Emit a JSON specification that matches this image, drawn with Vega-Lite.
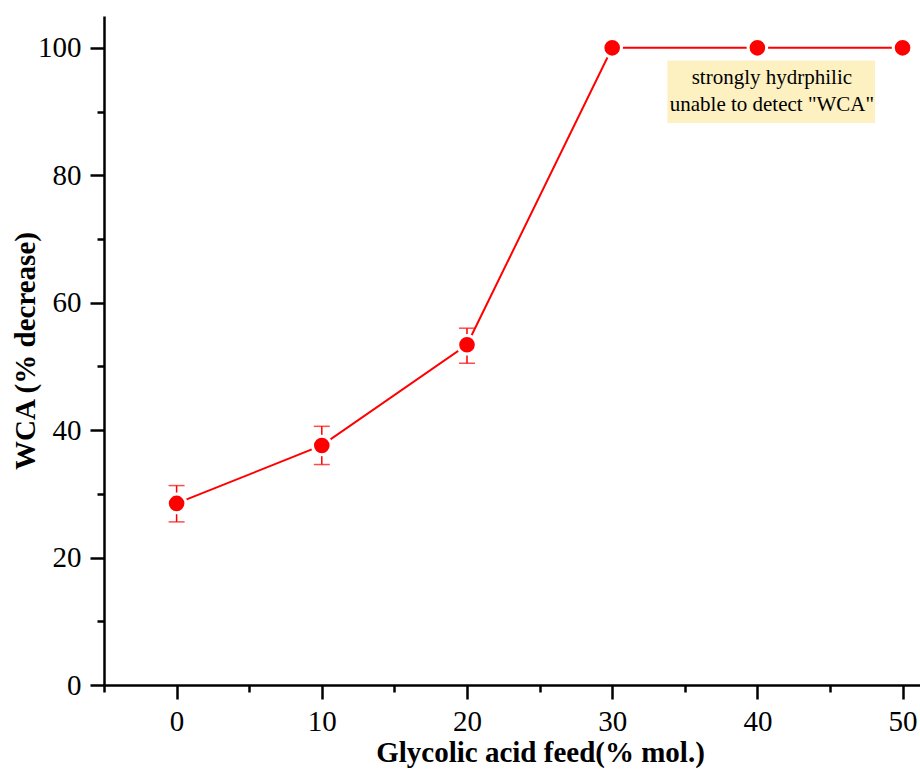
{
  "$schema": "https://vega.github.io/schema/vega-lite/v6.json",
  "width": 816,
  "height": 669,
  "padding": {"left": 104, "top": 16, "right": 0, "bottom": 86},
  "autosize": {"type": "none"},
  "background": "white",
  "config": {
    "view": {"stroke": null},
    "font": "Liberation Serif",
    "axis": {
      "domainColor": "black",
      "domainWidth": 2.5,
      "tickColor": "black",
      "tickWidth": 2.5,
      "grid": false,
      "labelFont": "Liberation Serif",
      "labelFontSize": 29,
      "labelColor": "black",
      "titleFont": "Liberation Serif",
      "titleFontWeight": "bold",
      "titleFontSize": 29,
      "titleColor": "black"
    }
  },
  "datasets": {
    "pts": [
      {"feed": 0, "wca": 28.5, "lo": 25.6, "hi": 31.3},
      {"feed": 10, "wca": 37.6, "lo": 34.6, "hi": 40.6},
      {"feed": 20, "wca": 53.4, "lo": 50.5, "hi": 56.0},
      {"feed": 30, "wca": 100},
      {"feed": 40, "wca": 100},
      {"feed": 50, "wca": 100}
    ],
    "note": [
      {"x1": 33.8, "x2": 48.1, "y1": 88.2, "y2": 98.0}
    ],
    "notetext": [
      {"x": 41.0, "y": 95.2, "t": "strongly hydrphilic"},
      {"x": 41.0, "y": 91.1, "t": "unable to detect \"WCA\""}
    ]
  },
  "layer": [
    {
      "data": {"name": "note"},
      "mark": {"type": "rect", "color": "#fdf1c2"},
      "encoding": {
        "x": {"field": "x1", "type": "quantitative",
          "scale": {"domain": [-5, 51.2], "nice": false, "zero": false},
          "axis": {
            "title": "Glycolic acid feed(% mol.)",
            "values": [-5, 0, 5, 10, 15, 20, 25, 30, 35, 40, 45, 50],
            "labelExpr": "datum.value % 10 === 0 ? datum.label : ''",
            "tickSize": {"condition": {"test": "datum.value % 10 === 0", "value": 14}, "value": 7},
            "labelPadding": 8,
            "titlePadding": 2,
            "titleX": 436
          }},
        "x2": {"field": "x2"},
        "y": {"field": "y1", "type": "quantitative",
          "scale": {"domain": [0, 105], "nice": false},
          "axis": {
            "title": "WCA (% decrease)",
            "values": [0, 10, 20, 30, 40, 50, 60, 70, 80, 90, 100],
            "labelExpr": "datum.value % 20 === 0 ? datum.label : ''",
            "tickSize": {"condition": {"test": "datum.value % 20 === 0", "value": 14}, "value": 7},
            "labelPadding": 9,
            "titlePadding": -3
          }},
        "y2": {"field": "y2"}
      }
    },
    {
      "data": {"name": "notetext"},
      "mark": {"type": "text", "font": "Liberation Serif", "fontSize": 21, "color": "black", "align": "center", "baseline": "middle"},
      "encoding": {
        "x": {"field": "x", "type": "quantitative"},
        "y": {"field": "y", "type": "quantitative"},
        "text": {"field": "t"}
      }
    },
    {
      "data": {"name": "pts"},
      "transform": [{"filter": "isValid(datum.lo)"}],
      "mark": {"type": "rule", "color": "#ff0000", "strokeWidth": 1.5},
      "encoding": {
        "x": {"field": "feed", "type": "quantitative"},
        "y": {"field": "lo", "type": "quantitative"},
        "y2": {"field": "hi"}
      }
    },
    {
      "data": {"name": "pts"},
      "transform": [{"filter": "isValid(datum.lo)"}],
      "mark": {"type": "tick", "color": "#ff0000", "thickness": 1.5, "size": 16, "orient": "horizontal"},
      "encoding": {
        "x": {"field": "feed", "type": "quantitative"},
        "y": {"field": "lo", "type": "quantitative"}
      }
    },
    {
      "data": {"name": "pts"},
      "transform": [{"filter": "isValid(datum.hi)"}],
      "mark": {"type": "tick", "color": "#ff0000", "thickness": 1.5, "size": 16, "orient": "horizontal"},
      "encoding": {
        "x": {"field": "feed", "type": "quantitative"},
        "y": {"field": "hi", "type": "quantitative"}
      }
    },
    {
      "data": {"name": "pts"},
      "mark": {"type": "line", "color": "#ff0000", "strokeWidth": 2},
      "encoding": {
        "x": {"field": "feed", "type": "quantitative"},
        "y": {"field": "wca", "type": "quantitative"}
      }
    },
    {
      "data": {"name": "pts"},
      "mark": {"type": "point", "shape": "circle", "filled": true, "fill": "#ff0000", "stroke": "white", "strokeWidth": 3, "opacity": 1, "size": 346},
      "encoding": {
        "x": {"field": "feed", "type": "quantitative"},
        "y": {"field": "wca", "type": "quantitative"}
      }
    }
  ]
}
